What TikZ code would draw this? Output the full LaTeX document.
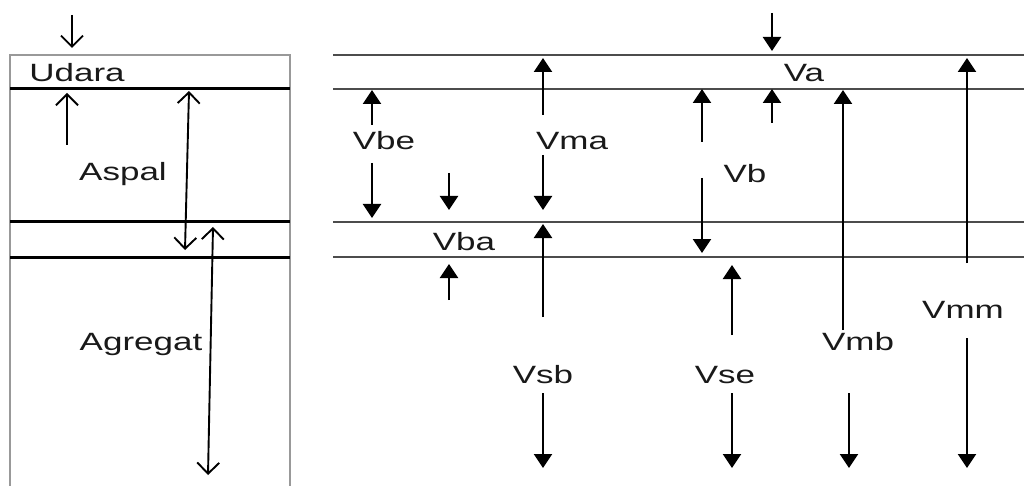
\documentclass[tikz,border=0pt]{standalone}
\usepackage{fontspec}
\setmainfont{Liberation Sans}[FakeStretch=1.4]
\usetikzlibrary{arrows.meta}
\begin{document}
\begin{tikzpicture}[x=1pt,y=-1pt,
  lbl/.style={font=\fontsize{25}{30}\selectfont, inner sep=0pt, anchor=base, text=black!90},
  solidarr/.style={line width=2.3pt, -{Triangle[length=14pt,width=18pt]}},
  openarr/.style={line width=1.9pt, -{Straight Barb[length=11pt,width=22pt]}},
  dblarr/.style={line width=1.9pt, {Straight Barb[length=11pt,width=22pt]}-{Straight Barb[length=11pt,width=22pt]}},
  thinline/.style={line width=1.4pt, draw=black!70},
  boxline/.style={line width=2pt, draw=black!40},
  thickline/.style={line width=3pt, draw=black}]
\useasboundingbox (0,0) rectangle (1024,486);
% left box
\draw[boxline] (10,486) -- (10,55) -- (290,55) -- (290,486);
\draw[thickline] (10,89) -- (290,89);
\draw[thickline] (10,222) -- (290,222);
\draw[thickline] (10,257) -- (290,257);
% right lines
\foreach \yy in {55,89,222,257} \draw[thinline] (333,\yy) -- (1024,\yy);
% labels
\node[lbl] (udara) at (77,82) {Udara};
\node[lbl] (aspal) at (123,181) {Aspal};
\node[lbl] (agregat) at (141,350) {Agregat};
\node[lbl] (vbe) at (384,150) {Vbe};
\node[lbl] (vma) at (572,150) {Vma};
\node[lbl] (vba) at (464,250) {Vba};
\node[lbl] (va) at (804,82) {Va};
\node[lbl] (vb) at (745,183) {Vb};
\node[lbl] (vsb) at (543,383) {Vsb};
\node[lbl] (vse) at (725,383) {Vse};
\node[lbl] (vmb) at (858,350) {Vmb};
\node[lbl] (vmm) at (963,318) {Vmm};
% left arrows
\coordinate (u0) at (72,15); \coordinate (u1) at (72,48);
\coordinate (a0) at (67,145); \coordinate (a1) at (67,93);
\coordinate (l0) at (189,91); \coordinate (l1) at (185,250);
\coordinate (m0) at (213,227); \coordinate (m1) at (208,475);
\draw[openarr] (u0) -- (u1);
\draw[openarr] (a0) -- (a1);
\draw[dblarr] (l0) -- (l1);
\draw[dblarr] (m0) -- (m1);
% right arrows
\coordinate (be0) at (372,125); \coordinate (be1) at (372,90);
\coordinate (be2) at (372,163); \coordinate (be3) at (372,218);
\coordinate (ba0) at (449,173); \coordinate (ba1) at (449,210);
\coordinate (ba2) at (449,300); \coordinate (ba3) at (449,264);
\coordinate (ma0) at (543,115); \coordinate (ma1) at (543,58);
\coordinate (ma2) at (543,155); \coordinate (ma3) at (543,210);
\coordinate (sb0) at (543,317); \coordinate (sb1) at (543,224);
\coordinate (sb2) at (543,393); \coordinate (sb3) at (543,468);
\coordinate (a2) at (772,13); \coordinate (a3) at (772,51);
\coordinate (a4) at (772,123); \coordinate (a5) at (772,89);
\coordinate (b0) at (702,142); \coordinate (b1) at (702,89);
\coordinate (b2) at (702,178); \coordinate (b3) at (702,253);
\coordinate (se0) at (732,335); \coordinate (se1) at (732,265);
\coordinate (se2) at (732,393); \coordinate (se3) at (732,468);
\coordinate (mb0) at (843,330); \coordinate (mb1) at (843,90);
\coordinate (mb2) at (849,393); \coordinate (mb3) at (849,468);
\coordinate (mm0) at (967,263); \coordinate (mm1) at (967,58);
\coordinate (mm2) at (967,338); \coordinate (mm3) at (967,468);
\foreach \s/\e in {be0/be1,be2/be3,ba0/ba1,ba2/ba3,ma0/ma1,ma2/ma3,sb0/sb1,sb2/sb3,a2/a3,a4/a5,b0/b1,b2/b3,se0/se1,se2/se3,mb0/mb1,mb2/mb3,mm0/mm1,mm2/mm3}
  \draw[solidarr] (\s) -- (\e);
\end{tikzpicture}
\end{document}
